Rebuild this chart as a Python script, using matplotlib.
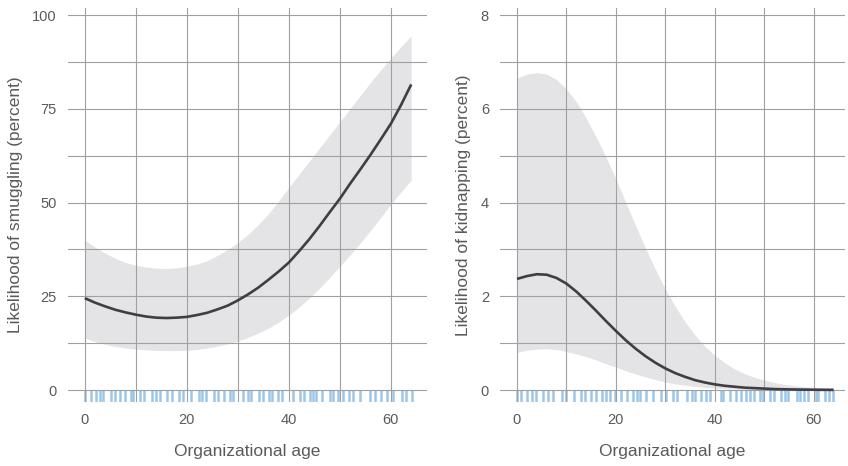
import matplotlib
matplotlib.use("Agg")
import matplotlib.pyplot as plt
from matplotlib.ticker import MultipleLocator

plt.rcParams['font.family'] = ['Liberation Sans', 'DejaVu Sans']

# ---- data ----
age = [0, 2, 4, 6, 8, 10, 12, 14, 16, 18, 20, 22, 24, 26, 28, 30, 32,
       34, 36, 38, 40, 42, 44, 46, 48, 50, 52, 54, 56, 58, 60, 62, 64]

smug_fit = [24.5, 23.3, 22.3, 21.4, 20.7, 20.1, 19.6, 19.3, 19.2, 19.3, 19.5, 20.0, 20.6,
            21.5, 22.5, 23.9, 25.5, 27.3, 29.4, 31.6, 34.0, 37.0, 40.2, 43.7, 47.4, 51.0,
            55.0, 58.8, 62.7, 66.8, 71.0, 76.0, 81.5]
smug_hi = [40.0, 38.1, 36.5, 35.1, 34.0, 33.3, 32.8, 32.5, 32.4, 32.6, 33.0, 33.6, 34.5,
           35.9, 37.5, 39.3, 41.5, 44.1, 47.0, 50.4, 54.0, 57.5, 61.0, 64.5, 68.0, 71.5,
           75.0, 78.5, 82.0, 85.3, 88.5, 91.6, 94.5]
smug_lo = [13.8, 12.9, 12.2, 11.6, 11.2, 10.9, 10.7, 10.55, 10.5, 10.5, 10.6, 10.8, 11.2,
           11.7, 12.3, 13.1, 14.0, 15.2, 16.5, 18.1, 20.0, 22.1, 24.5, 27.1, 30.0, 33.0,
           36.0, 39.2, 42.5, 46.0, 49.5, 52.8, 56.0]

kid_fit = [2.37, 2.43, 2.47, 2.46, 2.39, 2.27, 2.10, 1.90, 1.69, 1.47, 1.26, 1.06, 0.88,
           0.72, 0.58, 0.46, 0.36, 0.28, 0.21, 0.16, 0.12, 0.09, 0.07, 0.05, 0.04, 0.03,
           0.02, 0.015, 0.011, 0.008, 0.006, 0.004, 0.003]
kid_hi = [6.65, 6.74, 6.77, 6.74, 6.62, 6.42, 6.15, 5.80, 5.40, 4.97, 4.50, 4.00, 3.50,
          3.02, 2.57, 2.15, 1.78, 1.45, 1.17, 0.93, 0.74, 0.58, 0.45, 0.35, 0.27, 0.21,
          0.16, 0.12, 0.09, 0.07, 0.055, 0.045, 0.035]
kid_lo = [0.80, 0.85, 0.87, 0.88, 0.86, 0.82, 0.77, 0.71, 0.64, 0.56, 0.49, 0.41, 0.34,
          0.28, 0.22, 0.17, 0.13, 0.10, 0.075, 0.055, 0.04, 0.03, 0.02, 0.015, 0.01, 0.008,
          0.006, 0.004, 0.003, 0.002, 0.002, 0.001, 0.001]

smug_rug = [0, 1.3, 2.1, 2.9, 3.6, 5.2, 6, 6.8, 7.8, 9, 9.5, 10.9, 11.7, 13.1, 13.9, 14.7, 16.1,
            17, 18.4, 19.2, 20.8, 22.3, 22.9, 23.7, 25.4, 26.1, 27.2, 28.5, 29, 31.1, 31.9, 32.6,
            34.2, 35, 36.1, 36.8, 37.8, 38.6, 40.8, 42.2, 42.9, 44.1, 44.8, 45.4, 46.6, 48, 48.7,
            49.6, 50.6, 51.8, 52.6, 53.9, 55.9, 57, 58, 59.2, 60.5, 62.1, 62.9, 64.2]
kid_rug = [0, 0.9, 2.1, 3, 3.8, 5.2, 6.2, 7.3, 9.2, 10, 11.6, 12.9, 13.7, 14.9, 16, 17.2, 18,
           18.9, 19.8, 21, 22.2, 23.4, 24.2, 24.8, 26.1, 27.5, 29.1, 30.1, 31.6, 32.3, 34.3,
           35.3, 36, 37.1, 38.2, 39, 41.3, 41.7, 43, 44.2, 45.2, 46.2, 47.2, 47.9, 49.1, 49.8,
           51.1, 51.9, 53.3, 54.1, 54.8, 56.5, 57.2, 58, 58.9, 60.4, 60.9, 62.2, 63.1, 63.9]

x_ticks = [0, 20, 40, 60]
smug_yticks = [0, 25, 50, 75, 100]
kid_yticks = [0, 2, 4, 6, 8]

# ---- styles ----
W, H = 848, 466
band_c = '#e4e3e5'
line_c = '#403e42'
grid_c = '#a0a0a0'
rug_c = '#9dc6e8'
text_c = '#5a5a5a'

fig = plt.figure(figsize=(W / 100, H / 100), dpi=100)


def make_ax(px_left, px_right, px_top, px_bottom):
    return fig.add_axes([px_left / W, 1 - px_bottom / H,
                         (px_right - px_left) / W, (px_bottom - px_top) / H])


def style(ax, xlim, ylim, yticks, yminor, ylabel):
    ax.set_xlim(*xlim)
    ax.set_ylim(*ylim)
    ax.set_xticks(x_ticks)
    ax.xaxis.set_minor_locator(MultipleLocator(10))
    ax.set_yticks(yticks)
    ax.yaxis.set_minor_locator(MultipleLocator(yminor))
    for s in ax.spines.values():
        s.set_visible(False)
    ax.grid(True, which='both', color=grid_c, linewidth=0.8, zorder=2)
    ax.set_axisbelow(False)
    ax.tick_params(which='both', length=0, labelsize=10.5, colors=text_c, pad=8)
    ax.set_xlabel('Organizational age', fontsize=12.5, color=text_c, labelpad=12)
    ax.set_ylabel(ylabel, fontsize=12.5, color=text_c, labelpad=7)


def draw(ax, fit, lo, hi, rug, ymin):
    ax.fill_between(age, lo, hi, color=band_c, linewidth=0, zorder=1)
    ax.vlines(rug, ymin, 0, color=rug_c, linewidth=1.8, zorder=1.5)
    ax.plot(age, fit, color=line_c, linewidth=1.9, zorder=3,
            solid_capstyle='butt', solid_joinstyle='round')


ax1 = make_ax(68, 427, 8, 402)
draw(ax1, smug_fit, smug_lo, smug_hi, smug_rug, -3.2)
style(ax1, (-3.3, 67.1), (-3.2, 101.9), smug_yticks, 12.5,
      'Likelihood of smuggling (percent)')

ax2 = make_ax(500, 845, 8, 402)
draw(ax2, kid_fit, kid_lo, kid_hi, kid_rug, -0.256)
style(ax2, (-3.43, 66.3), (-0.256, 8.15), kid_yticks, 1,
      'Likelihood of kidnapping (percent)')

fig.savefig('out.png', dpi=100)
